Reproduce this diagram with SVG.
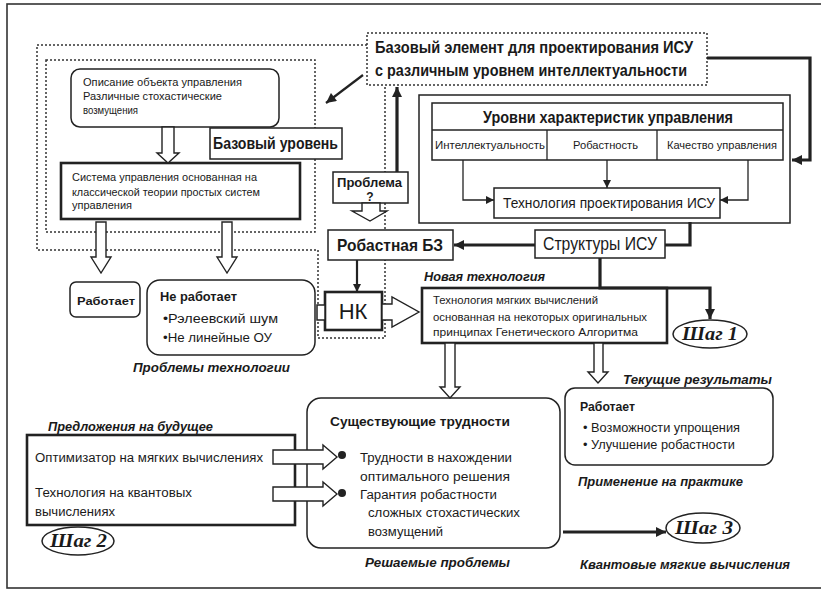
<svg xmlns="http://www.w3.org/2000/svg" width="821" height="591" viewBox="0 0 821 591">
<style>
.t{font-family:"Liberation Sans",Arial,sans-serif;fill:#1a1a1a}
.b{font-weight:bold}
.i{font-style:italic;font-weight:bold}
.s{font-family:"Liberation Serif","Times New Roman",serif;font-style:italic;font-weight:bold;fill:#1a1a1a}
.box{fill:#fff;stroke:#222;stroke-width:1.5}
.thick{fill:#fff;stroke:#222;stroke-width:2.6}
.dot{fill:none;stroke:#333;stroke-width:1.5;stroke-dasharray:2 2}
.ln{fill:none;stroke:#222;stroke-width:1.3}
.ln2{fill:none;stroke:#222;stroke-width:2.2}
.ln3{fill:none;stroke:#222;stroke-width:3.2}
.ha{fill:#fff;stroke:#222;stroke-width:1.4}
</style>
<defs>
<marker id="ah" viewBox="0 0 10 10" refX="10" refY="5" markerWidth="10" markerHeight="8" markerUnits="userSpaceOnUse" orient="auto">
<path d="M0,0 L10,5 L0,10 z" fill="#222"/>
</marker>
<marker id="ahb" viewBox="0 0 10 10" refX="10" refY="5" markerWidth="13" markerHeight="10" markerUnits="userSpaceOnUse" orient="auto">
<path d="M0,0 L10,5 L0,10 z" fill="#222"/>
</marker>
</defs>
<rect x="0" y="0" width="821" height="591" fill="#fff"/>
<rect x="7" y="4" width="820" height="584" fill="none" stroke="#333" stroke-width="1.6"/>

<g id="dashed-frames">
<polyline class="dot" points="367,45 37,45 37,250 318,250 318,338 385,338 385,85"/>
<rect class="dot" x="46" y="60" width="269" height="172"/>
</g>

<g id="basic-element">
<rect x="367" y="33" width="340" height="52" fill="#fff" class="dot"/>
<text class="t b" x="375" y="53" font-size="17" textLength="318" lengthAdjust="spacingAndGlyphs">Базовый элемент для проектирования ИСУ</text>
<text class="t b" x="375" y="76" font-size="17" textLength="312" lengthAdjust="spacingAndGlyphs">с различным уровнем интеллектуальности</text>
</g>

<g id="object-description">
<rect class="box" x="71" y="69" width="208" height="58" rx="9"/>
<text class="t" x="83" y="86" font-size="11" textLength="159" lengthAdjust="spacingAndGlyphs">Описание объекта управления</text>
<text class="t" x="83" y="100" font-size="11" textLength="139" lengthAdjust="spacingAndGlyphs">Различные стохастические</text>
<text class="t" x="83" y="114" font-size="11" textLength="55" lengthAdjust="spacingAndGlyphs">возмущения</text>
</g>

<g id="base-level">
<rect class="box" x="210" y="128" width="132" height="31"/>
<text class="t b" x="213" y="149" font-size="17" textLength="125" lengthAdjust="spacingAndGlyphs">Базовый уровень</text>
</g>

<g id="classic-control">
<rect class="thick" x="61" y="163" width="239" height="56" stroke-width="2.2"/>
<text class="t" x="72" y="181" font-size="11" textLength="185" lengthAdjust="spacingAndGlyphs">Система управления основанная на</text>
<text class="t" x="72" y="196" font-size="11" textLength="188" lengthAdjust="spacingAndGlyphs">классической теории простых систем</text>
<text class="t" x="72" y="209" font-size="11" textLength="60" lengthAdjust="spacingAndGlyphs">управления</text>
</g>

<g id="works-left">
<rect class="box" x="70" y="282" width="70" height="35" rx="6"/>
<text class="t b" x="77" y="305" font-size="11" textLength="58" lengthAdjust="spacingAndGlyphs">Работает</text>
</g>

<g id="not-works">
<rect class="box" x="147" y="280" width="168" height="75" rx="13"/>
<text class="t b" x="160" y="301" font-size="12" textLength="77" lengthAdjust="spacingAndGlyphs">Не работает</text>
<text class="t" x="163" y="323" font-size="12" textLength="115" lengthAdjust="spacingAndGlyphs">•Рэлеевский шум</text>
<text class="t" x="163" y="342" font-size="12" textLength="109" lengthAdjust="spacingAndGlyphs">•Не линейные ОУ</text>
<text class="t i" x="133" y="372" font-size="12" textLength="157" lengthAdjust="spacingAndGlyphs">Проблемы технологии</text>
</g>

<g id="problem">
<rect class="box" x="333" y="172" width="75" height="31"/>
<text class="t b" x="337" y="187" font-size="12" textLength="65" lengthAdjust="spacingAndGlyphs">Проблема</text>
<text class="t b" x="370" y="201" font-size="12" text-anchor="middle">?</text>
</g>

<g id="robust-kb">
<rect class="box" x="328" y="230" width="125" height="30"/>
<text class="t b" x="337" y="251" font-size="17" textLength="106" lengthAdjust="spacingAndGlyphs">Робастная БЗ</text>
</g>

<g id="nk">
<rect class="thick" x="325" y="292" width="57" height="38"/>
<text class="t" x="353" y="319" font-size="22" text-anchor="middle">НК</text>
</g>

<g id="levels-block">
<rect class="box" x="419" y="95" width="371" height="128"/>
<rect class="box" x="432" y="103" width="351" height="57"/>
<line class="ln" x1="432" y1="130" x2="783" y2="130"/>
<line class="ln" x1="547" y1="130" x2="547" y2="160"/>
<line class="ln" x1="657" y1="130" x2="657" y2="160"/>
<text class="t b" x="483" y="123" font-size="17" textLength="250" lengthAdjust="spacingAndGlyphs">Уровни характеристик управления</text>
<text class="t" x="435" y="149" font-size="11" textLength="110" lengthAdjust="spacingAndGlyphs">Интеллектуальность</text>
<text class="t" x="573" y="149" font-size="11" textLength="65" lengthAdjust="spacingAndGlyphs">Робастность</text>
<text class="t" x="667" y="149" font-size="11" textLength="110" lengthAdjust="spacingAndGlyphs">Качество управления</text>
</g>

<g id="design-tech">
<rect class="box" x="494" y="188" width="226" height="30"/>
<text class="t" x="503" y="208" font-size="14" textLength="212" lengthAdjust="spacingAndGlyphs">Технология проектирования ИСУ</text>
</g>

<g id="structures">
<rect class="box" x="535" y="230" width="130" height="28"/>
<text class="t" x="543" y="250" font-size="18" textLength="114" lengthAdjust="spacingAndGlyphs">Структуры ИСУ</text>
</g>

<g id="soft-computing">
<text class="t i" x="424" y="281" font-size="12" textLength="121" lengthAdjust="spacingAndGlyphs">Новая технология</text>
<rect class="thick" x="422" y="288" width="245" height="55" stroke-width="3"/>
<text class="t" x="433" y="304" font-size="11" textLength="165" lengthAdjust="spacingAndGlyphs">Технология мягких вычислений</text>
<text class="t" x="433" y="321" font-size="11" textLength="214" lengthAdjust="spacingAndGlyphs">основанная на некоторых оригинальных</text>
<text class="t" x="433" y="336" font-size="11" textLength="205" lengthAdjust="spacingAndGlyphs">принципах Генетического Алгоритма</text>
</g>

<g id="step1">
<ellipse class="box" cx="710" cy="334" rx="37" ry="14"/>
<text class="s" x="682" y="340" font-size="18" textLength="56" lengthAdjust="spacingAndGlyphs">Шаг 1</text>
</g>

<g id="current-results">
<text class="t i" x="623" y="384" font-size="12" textLength="149" lengthAdjust="spacingAndGlyphs">Текущие результаты</text>
<rect class="box" x="565" y="388" width="208" height="77" rx="10" stroke-width="2"/>
<text class="t b" x="580" y="411" font-size="12" textLength="55" lengthAdjust="spacingAndGlyphs">Работает</text>
<text class="t" x="583" y="432" font-size="12.5" textLength="157" lengthAdjust="spacingAndGlyphs">• Возможности упрощения</text>
<text class="t" x="583" y="449" font-size="12.5" textLength="152" lengthAdjust="spacingAndGlyphs">• Улучшение робастности</text>
<text class="t i" x="578" y="486" font-size="12" textLength="165" lengthAdjust="spacingAndGlyphs">Применение на практике</text>
</g>

<g id="difficulties">
<rect class="box" x="307" y="398" width="253" height="150" rx="14" stroke-width="2.2"/>
<text class="t b" x="330" y="426" font-size="13" textLength="180" lengthAdjust="spacingAndGlyphs">Существующие трудности</text>
<circle cx="342" cy="455" r="4" fill="#222"/>
<circle cx="342" cy="493" r="4" fill="#222"/>
<text class="t" x="360" y="462" font-size="12.5" textLength="152" lengthAdjust="spacingAndGlyphs">Трудности в нахождении</text>
<text class="t" x="360" y="481" font-size="12.5" textLength="150" lengthAdjust="spacingAndGlyphs">оптимального решения</text>
<text class="t" x="360" y="499" font-size="12.5" textLength="137" lengthAdjust="spacingAndGlyphs">Гарантия робастности</text>
<text class="t" x="368" y="517" font-size="12.5" textLength="152" lengthAdjust="spacingAndGlyphs">сложных стохастических</text>
<text class="t" x="368" y="536" font-size="12.5" textLength="75" lengthAdjust="spacingAndGlyphs">возмущений</text>
<text class="t i" x="365" y="567" font-size="12" textLength="145" lengthAdjust="spacingAndGlyphs">Решаемые проблемы</text>
</g>

<g id="future">
<text class="t i" x="48" y="431" font-size="12" textLength="165" lengthAdjust="spacingAndGlyphs">Предложения на будущее</text>
<rect class="thick" x="27" y="435" width="268" height="90" stroke-width="2.2"/>
<text class="t" x="35" y="462" font-size="12.5" textLength="228" lengthAdjust="spacingAndGlyphs">Оптимизатор на мягких вычислениях</text>
<text class="t" x="35" y="497" font-size="12.5" textLength="157" lengthAdjust="spacingAndGlyphs">Технология на квантовых</text>
<text class="t" x="35" y="516" font-size="12.5" textLength="80" lengthAdjust="spacingAndGlyphs">вычислениях</text>
</g>

<g id="step2">
<ellipse class="box" cx="78" cy="541" rx="36" ry="14"/>
<text class="s" x="50" y="547" font-size="18" textLength="57" lengthAdjust="spacingAndGlyphs">Шаг 2</text>
</g>

<g id="step3">
<ellipse class="box" cx="703" cy="528" rx="37" ry="15"/>
<text class="s" x="675" y="534" font-size="18" textLength="58" lengthAdjust="spacingAndGlyphs">Шаг 3</text>
<text class="t i" x="580" y="569" font-size="12" textLength="210" lengthAdjust="spacingAndGlyphs">Квантовые мягкие вычисления</text>
</g>

<g id="connectors">
<line class="ln2" x1="363" y1="75" x2="326" y2="103" marker-end="url(#ahb)"/>
<line class="ln3" x1="397" y1="172" x2="397" y2="87" marker-end="url(#ahb)"/>
<polyline class="ln3" points="707,58 810,58 810,160 792,160" marker-end="url(#ahb)"/>
<polyline class="ln" points="463,160 463,200 494,200" marker-end="url(#ah)"/>
<line class="ln" x1="607" y1="160" x2="607" y2="188" marker-end="url(#ah)"/>
<polyline class="ln" points="748,160 748,200 720,200" marker-end="url(#ah)"/>
<polyline class="ln3" points="690,222 690,245 665,245"/>
<line class="ln3" x1="535" y1="245" x2="454" y2="245" marker-end="url(#ahb)"/>
<line class="ln2" x1="357" y1="260" x2="357" y2="292" marker-end="url(#ah)"/>
<polyline class="ln3" points="600,258 600,288 710,288 710,319" marker-end="url(#ahb)"/>
<line class="ln3" x1="563" y1="532" x2="666" y2="532" marker-end="url(#ahb)"/>
<polygon class="ha" points="162,127 174,127 174,153 179,153 168,163 157,153 162,153"/>
<polygon class="ha" points="96,222 106,222 106,257 111,257 101,273 91,257 96,257"/>
<polygon class="ha" points="222,222 232,222 232,257 237,257 227,273 217,257 222,257"/>
<polygon class="ha" points="362,203 362,211 352,211 370,221 387,211 380,211 380,203"/>
<polygon class="ha" points="382,304 392,304 392,297 419,312 392,327 392,320 382,320"/>
<polygon class="ha" points="445,343 455,343 455,387 460,387 450,398 440,387 445,387"/>
<polygon class="ha" points="594,343 603,343 603,372 608,372 598,383 588,372 594,372"/>
<polygon class="ha" points="273,450 323,450 323,445 337,457 323,469 323,464 273,464"/>
<polygon class="ha" points="273,487 323,487 323,482 337,494 323,506 323,501 273,501"/>
<rect class="box" x="317" y="305" width="8" height="15"/>
</g>
</svg>
